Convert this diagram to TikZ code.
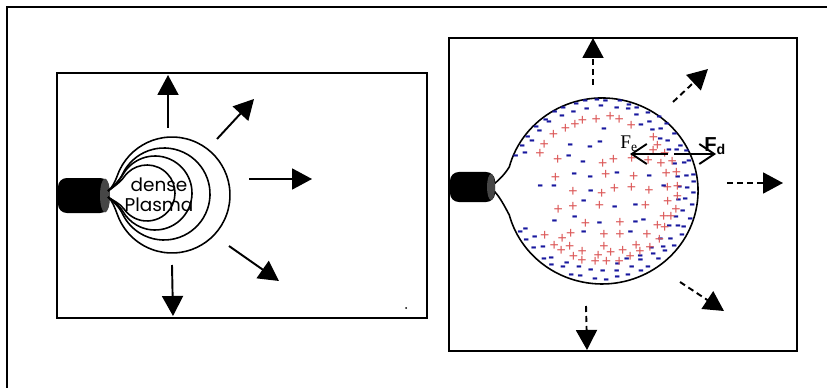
\documentclass[tikz,border=0pt]{standalone}
\usepackage{fontspec}
\usetikzlibrary{calc, arrows.meta}
\newfontfamily\plasmafont{Poppins}
\newfontfamily\sansforce{Liberation Sans}
\newfontfamily\serifforce{Liberation Serif}
\definecolor{chargeplus}{RGB}{220,90,90}
\definecolor{chargeminus}{RGB}{24,24,158}
\definecolor{nozzlecap}{RGB}{70,70,70}

% one expanding shell: centre, start angle, radius
\newcommand{\plume}[3]{%
  \draw[shell] (tipup) .. controls +(4,-3) and ($(#1)+(#2:#3)+(#2-90:7)$) .. ($(#1)+(#2:#3)$)
    arc[start angle=#2, end angle={720-#2}, radius=#3]
    .. controls ($(#1)+({720-#2}:#3)+({810-#2}:7)$) and +(4,3) .. (tipdown);
}
% one charge at x, y (kept clear of the F_e label)
\newcommand{\dropcharge}[4]{%
  \pgfmathtruncatemacro\clash{and(and(#2>613,#2<651),and(#3>131,#3<156))}%
  \ifnum\clash=0 \node[#1] at (#2,#3) {#4};\fi}
% one charge at angle, fraction of the cloud radius
\newcommand{\ringcharge}[4]{%
  \pgfmathsetmacro\px{602+96*(#3)*cos(#2)}%
  \pgfmathsetmacro\py{191+93*(#3)*sin(#2)}%
  \dropcharge{#1}{\px}{\py}{#4}}

\begin{document}
\begin{tikzpicture}[
    x=0.02cm, y=-0.02cm,
    frame/.style = {draw, line width=0.8pt},
    shell/.style = {draw, line width=0.9pt},
    nozzle/.style = {fill=black, rounded corners=5pt},
    blast/.style = {-{Triangle[length=0.4cm, width=0.42cm]}, line width=1.1pt},
    burst/.style = {blast, dash pattern=on 0.12cm off 0.08cm},
    force/.style = {-{Straight Barb[length=0.3cm, width=0.4cm]}, line width=1.1pt},
    ion/.style = {text=chargeplus, font=\sansforce\fontsize{9}{9}\selectfont, inner sep=0pt},
    electron/.style = {text=chargeminus, font=\sansforce\bfseries\fontsize{10}{10}\selectfont, inner sep=0pt}
  ]
  \useasboundingbox (0,0) rectangle (827,388);

  % outer frame
  \draw[frame] (7,388) -- (7,7) -- (827,7);

  %% left panel: dense plasma at the nozzle
  \draw[frame] (57,73) rectangle (427,318);
  \fill[nozzle] (58,178) rectangle (109,213);
  \fill[nozzlecap] (105,195.5) ellipse [x radius=5, y radius=17];
  \coordinate (tipup) at (108,191);
  \coordinate (tipdown) at (108,197);
  \coordinate (s1) at (147,193);
  \coordinate (s2) at (155,193);
  \coordinate (s3) at (164,194);
  \coordinate (s4) at (172,195);
  \plume{s1}{215}{28}
  \plume{s2}{210}{37}
  \plume{s3}{205}{46}
  \plume{s4}{200}{58}
  \node (dense) at (159,195) [align=center, inner sep=0pt,
    font=\plasmafont\fontsize{10.5}{11.5}\selectfont] {dense\\Plasma};
  \fill (406,308) circle [radius=1];

  % arrows out of the shells
  \foreach \n/\a/\b in {n/{168,128}/{168,75}, ne/{217,139}/{254,99}, e/{249,179}/{312,179},
                        se/{229,246}/{279,281}, s/{172,265}/{173,316}} {
    \coordinate (l\n0) at (\a);
    \coordinate (l\n1) at (\b);
    \draw[blast] (l\n0) -- (l\n1);
  }

  %% right panel: expanded charged cloud
  \draw[frame] (449,38) rectangle (797,351);
  \coordinate (neckup) at (494,184);
  \coordinate (neckdown) at (494,191);
  \draw[shell] (neckup) .. controls (499,180) and (505,174) .. (509.3,166.9)
    arc[start angle=195, end angle=525, x radius=96, y radius=93]
    .. controls (505,207) and (500,197) .. (neckdown);
  \fill[nozzle] (450,172) rectangle (495,202);
  \fill[nozzlecap] (491,187) ellipse [x radius=4, y radius=13];

  % electrons along the rim
  \pgfmathsetseed{31}
  \foreach \t in {203,210,...,517} {
    \ringcharge{electron}{\t+4*rnd-2}{0.945+0.03*rnd}{-}
  }
  \foreach \t in {206,215,...,514} {
    \ringcharge{electron}{\t+4*rnd-2}{0.87+0.03*rnd}{-}
  }
  \foreach \t in {300,310,...,440} {
    \ringcharge{electron}{\t+4*rnd-2}{0.8+0.02*rnd}{-}
  }
  % ions just inside them
  \foreach \t in {212,221,...,508} {
    \ringcharge{ion}{\t+4*rnd-2}{0.76+0.04*rnd}{+}
  }
  \foreach \t in {310,322,...,490} {
    \ringcharge{ion}{\t+4*rnd-2}{0.67+0.03*rnd}{+}
  }
  % a mix in the core
  \foreach \gx in {-60,-45,...,60} {
    \foreach \gy in {-60,-45,...,60} {
      \pgfmathtruncatemacro\inside{\gx*\gx+\gy*\gy<3700}
      \ifnum\inside=1
        \pgfmathsetmacro\cx{602+\gx+8*rnd-4}
        \pgfmathsetmacro\cy{191+\gy+8*rnd-4}
        \pgfmathtruncatemacro\kind{rnd<0.5}
        \ifnum\kind=1 \dropcharge{ion}{\cx}{\cy}{+}\else\dropcharge{electron}{\cx}{\cy}{-}\fi
      \fi
    }
  }

  % forces on the rim
  \coordinate (fel) at (668,154);
  \coordinate (fe) at (630,154);
  \coordinate (fdr) at (674,154);
  \coordinate (fd) at (716,154);
  \draw[force] (fel) -- (fe);
  \draw[force] (fdr) -- (fd);
  \node (felabel) at (620,144) [anchor=west, inner sep=0pt,
    font=\serifforce\fontsize{11}{11}\selectfont] {F\textsubscript{e}};
  \node (fdlabel) at (704,146) [anchor=west, inner sep=0pt,
    font=\sansforce\bfseries\fontsize{11.5}{11.5}\selectfont] {F\textsubscript{d}};

  % arrows out of the cloud
  \foreach \n/\a/\b in {n/{593,85}/{593,38}, ne/{673,102}/{708,69}, e/{727,183}/{783,183},
                        se/{680,282}/{724,311}, s/{586,306}/{587,350}} {
    \coordinate (r\n0) at (\a);
    \coordinate (r\n1) at (\b);
    \draw[burst] (r\n0) -- (r\n1);
  }
\end{tikzpicture}
\end{document}
